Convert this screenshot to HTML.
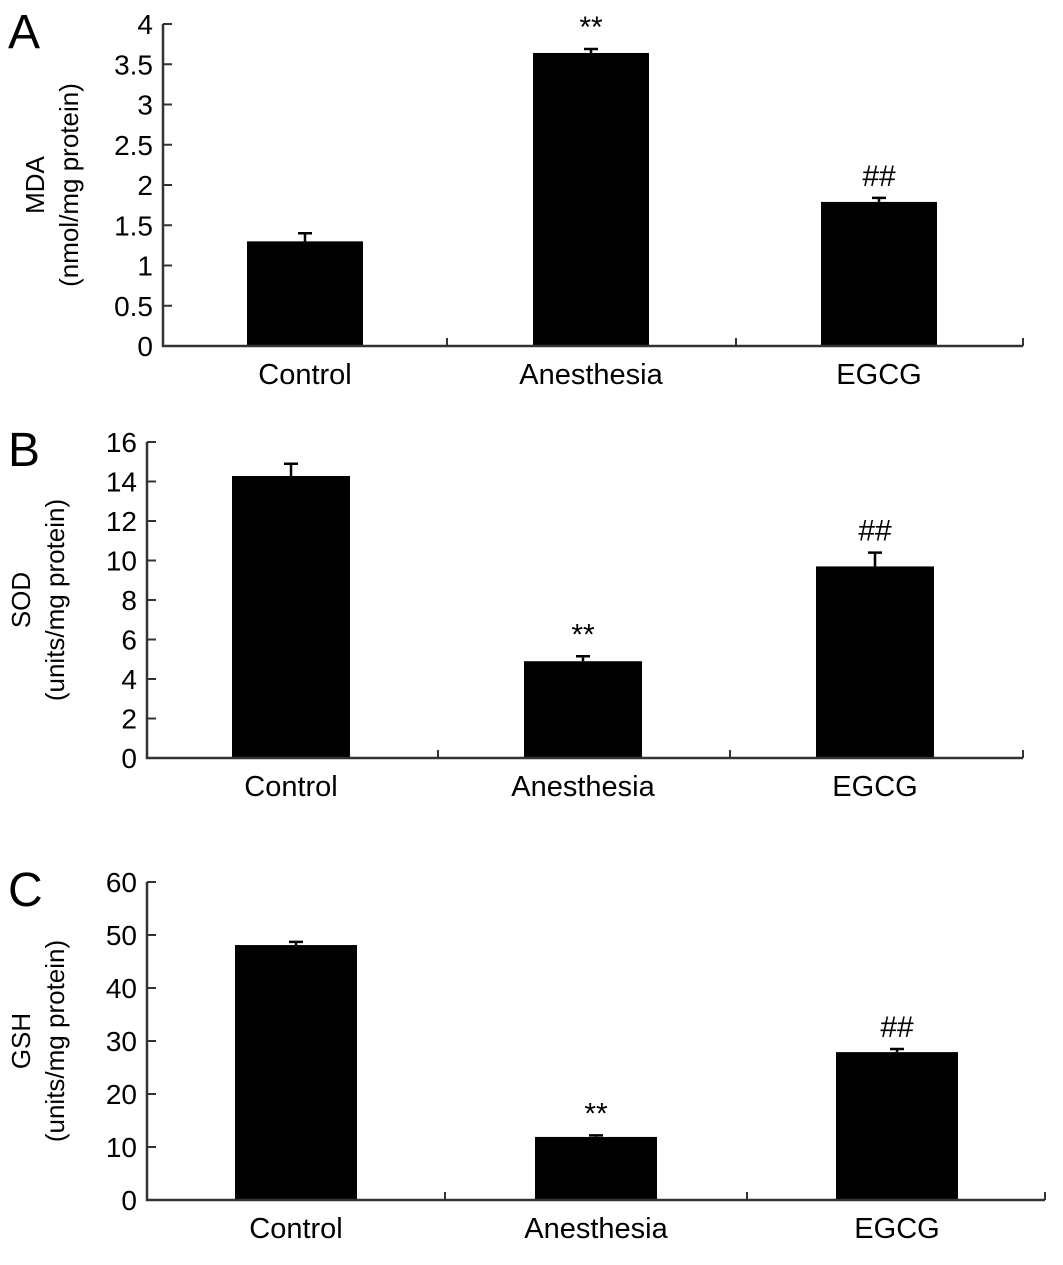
<!DOCTYPE html>
<html><head><meta charset="utf-8"><style>
html,body{margin:0;padding:0;background:#fff}
svg{display:block;font-family:"Liberation Sans",Arial,sans-serif}
</style></head><body>
<svg id="fig" width="1063" height="1265" viewBox="0 0 1063 1265" xmlns="http://www.w3.org/2000/svg"></svg>
<script>
const categories=["Control","Anesthesia","EGCG"];
const mdaValues=[1.30,3.64,1.79];
const mdaErrors=[0.10,0.05,0.05];
const mdaTicks=["0","0.5","1","1.5","2","2.5","3","3.5","4"];
const mdaMarks=["","**","##"];
const sodValues=[14.28,4.9,9.7];
const sodErrors=[0.62,0.25,0.7];
const sodTicks=["0","2","4","6","8","10","12","14","16"];
const sodMarks=["","**","##"];
const gshValues=[48.1,11.9,27.9];
const gshErrors=[0.6,0.3,0.6];
const gshTicks=["0","10","20","30","40","50","60"];
const gshMarks=["","**","##"];

const NS="http://www.w3.org/2000/svg";
const svg=document.getElementById('fig');
function mk(tag,attrs,parent){const e=document.createElementNS(NS,tag);for(const k in attrs)e.setAttribute(k,attrs[k]);(parent||svg).appendChild(e);return e;}

function panel(cfg){
  const g=mk('g',{});
  
  
  const ymax=parseFloat(cfg.ticks[cfg.ticks.length-1]);
  const y=v=>cfg.y0-(v/ymax)*(cfg.y0-cfg.yTop);
  const cx=i=>cfg.centers[i];
  const L=mk('text',{x:8,y:cfg.yTop+24,'font-size':48},g);L.textContent=cfg.letter;
  
  
  const t=mk('text',{transform:`translate(${cfg.titleX},${(cfg.y0+cfg.yTop)/2}) rotate(-90)`,'text-anchor':'middle','font-size':26},g);
  
  
  const t1=mk('tspan',{x:0,dy:-6},t);t1.textContent=cfg.title1;
  const t2=mk('tspan',{x:0,dy:34},t);t2.textContent=cfg.title2;
  cfg.values.forEach((v,i)=>{
    const w=cfg.barW;
    const r=mk('rect',{x:cx(i)-w/2,y:y(v),width:w,height:cfg.y0-y(v),fill:'#000'},g);
    
    
    const ye=y(v+cfg.errors[i]);
    const eb=mk('path',{d:`M${cx(i)},${y(v)} V${ye} M${cx(i)-7},${ye} H${cx(i)+7}`,stroke:'#000','stroke-width':2.5,fill:'none'},g);
    
    
    if(cfg.marks[i]){
      const m=mk('text',{x:cx(i),y:ye-12,'text-anchor':'middle','font-size':30},g);
      m.textContent=cfg.marks[i];
      
      
    }
    const c=mk('text',{x:cx(i),y:cfg.y0+38,'text-anchor':'middle','font-size':29},g);
    c.textContent=categories[i];
    
    
  });
  const ax=mk('path',{d:`M${cfg.x0},${cfg.yTop} V${cfg.y0} H${cfg.xEnd}`,stroke:'#333','stroke-width':2.5,fill:'none'},g);
  
  
  cfg.seps.concat([cfg.xEnd]).forEach(xx=>{
    mk('line',{x1:xx,y1:cfg.y0,x2:xx,y2:cfg.y0-8,stroke:'#333','stroke-width':2},g);
  });
  cfg.ticks.forEach(tk=>{
    const yy=y(parseFloat(tk));
    mk('line',{x1:cfg.x0,y1:yy,x2:cfg.x0+9,y2:yy,stroke:'#333','stroke-width':2},g);
    const tl=mk('text',{x:cfg.x0-10,y:yy+10,'text-anchor':'end','font-size':28},g);
    tl.textContent=tk;
    
    
  });
}
panel({id:'mda',letter:'A',values:mdaValues,errors:mdaErrors,ticks:mdaTicks,marks:mdaMarks,x0:163,xEnd:1023,y0:346,yTop:24,barW:116,centers:[305,591,879],seps:[447,736],titleX:50,title1:'MDA',title2:'(nmol/mg protein)'});
panel({id:'sod',letter:'B',values:sodValues,errors:sodErrors,ticks:sodTicks,marks:sodMarks,x0:147,xEnd:1023,y0:758,yTop:442,barW:118,centers:[291,583,875],seps:[438,730],titleX:36,title1:'SOD',title2:'(units/mg protein)'});
panel({id:'gsh',letter:'C',values:gshValues,errors:gshErrors,ticks:gshTicks,marks:gshMarks,x0:147,xEnd:1045,y0:1200,yTop:882,barW:122,centers:[296,596,897],seps:[445,747],titleX:36,title1:'GSH',title2:'(units/mg protein)'});
</script>
</body></html>
